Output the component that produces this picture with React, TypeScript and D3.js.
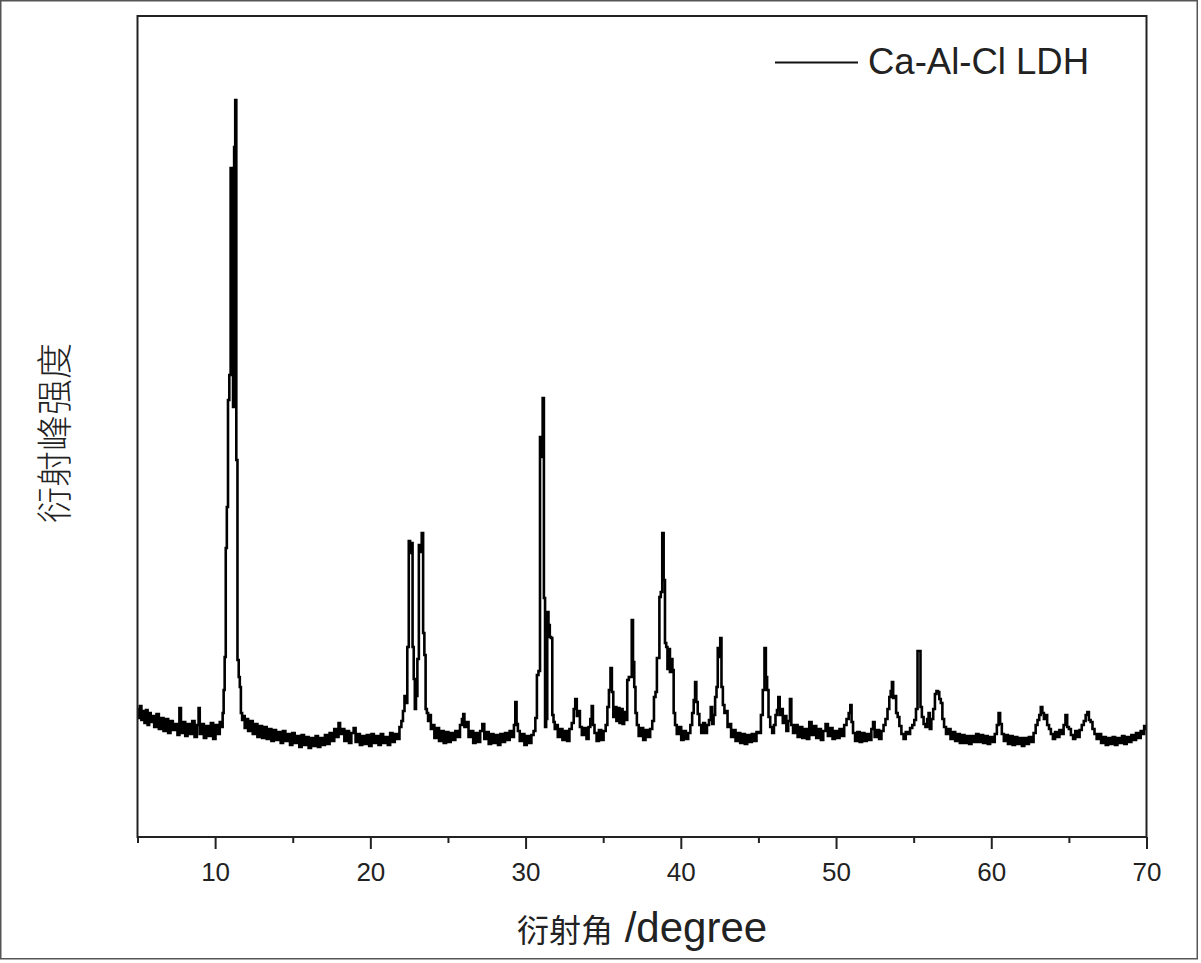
import React, { useEffect, useRef } from 'react';
import * as d3 from 'd3';

// XRD scan, 2θ (degree) vs intensity (a.u.), split by angle range
const scanLow: [number, number][] = [
  [5.0, 128], [5.1, 119], [5.2, 131], [5.3, 117], [5.4, 126], [5.5, 114], [5.6, 127], [5.7, 112],
  [5.8, 124], [5.9, 115], [6.0, 121], [6.15, 110], [6.3, 123], [6.45, 108], [6.6, 119], [6.75, 106],
  [6.9, 118], [7.05, 104], [7.2, 116], [7.35, 107], [7.5, 113], [7.65, 102], [7.75, 129], [7.85, 104],
  [8.0, 115], [8.15, 101], [8.3, 113], [8.45, 103], [8.6, 116], [8.75, 100], [8.9, 112], [8.97, 129],
  [9.05, 103], [9.2, 113], [9.35, 99], [9.5, 111], [9.65, 101], [9.8, 114], [9.95, 98], [10.1, 112],
  [10.25, 103], [10.35, 115], [10.45, 110], [10.52, 124], [10.58, 147], [10.65, 180], [10.72, 289],
  [10.79, 330], [10.87, 437], [10.96, 462], [11.04, 669], [11.12, 660], [11.19, 430], [11.26, 690],
  [11.33, 737], [11.4, 377], [11.48, 177], [11.56, 160], [11.62, 150], [11.7, 124], [11.78, 117],
  [11.86, 121], [11.95, 109],
];

const scan12to22: [number, number][] = [
  [12.05, 118], [12.2, 106], [12.35, 116], [12.5, 103], [12.65, 113], [12.8, 100], [12.95, 111],
  [13.1, 99], [13.25, 110], [13.4, 98], [13.55, 108], [13.7, 96], [13.85, 107], [14.0, 97],
  [14.15, 105], [14.3, 94], [14.45, 106], [14.6, 96], [14.75, 103], [14.9, 92], [15.05, 104],
  [15.2, 94], [15.35, 101], [15.5, 90], [15.65, 102], [15.8, 92], [15.95, 100], [16.1, 89],
  [16.25, 99], [16.4, 91], [16.55, 101], [16.7, 90], [16.85, 99], [17.0, 92], [17.15, 102],
  [17.3, 93], [17.45, 104], [17.6, 96], [17.75, 108], [17.9, 100], [18.0, 114], [18.1, 103],
  [18.25, 108], [18.4, 96], [18.55, 106], [18.7, 94], [18.85, 104], [19.0, 109], [19.1, 95],
  [19.25, 103], [19.4, 92], [19.55, 101], [19.7, 93], [19.85, 102], [20.0, 91], [20.15, 103],
  [20.3, 94], [20.45, 101], [20.6, 92], [20.75, 103], [20.9, 94], [21.05, 100], [21.2, 92],
  [21.35, 104], [21.5, 95], [21.65, 103], [21.8, 98], [21.95, 110],
];

const scan22to24: [number, number][] = [
  [22.05, 116], [22.15, 126], [22.25, 141], [22.33, 134], [22.43, 190], [22.52, 296], [22.6, 284],
  [22.68, 294], [22.76, 190], [22.83, 158], [22.9, 128], [22.98, 141], [23.08, 178], [23.17, 292],
  [23.26, 285], [23.36, 304], [23.44, 204], [23.52, 182], [23.6, 128], [23.68, 124], [23.76, 116],
  [23.85, 122], [23.95, 108],
];

const scan24to32: [number, number][] = [
  [24.05, 112], [24.2, 99], [24.35, 109], [24.5, 96], [24.65, 106], [24.8, 94], [24.95, 105],
  [25.1, 95], [25.25, 104], [25.4, 97], [25.55, 106], [25.7, 100], [25.85, 112], [25.95, 118],
  [26.02, 123], [26.1, 110], [26.25, 115], [26.4, 100], [26.55, 106], [26.7, 94], [26.85, 104],
  [27.0, 95], [27.15, 106], [27.28, 113], [27.4, 98], [27.55, 105], [27.7, 93], [27.85, 103],
  [28.0, 94], [28.15, 102], [28.3, 92], [28.45, 103], [28.6, 95], [28.75, 104], [28.9, 97],
  [29.05, 106], [29.2, 100], [29.3, 112], [29.38, 135], [29.46, 113], [29.55, 106], [29.7, 96],
  [29.85, 103], [30.0, 92], [30.15, 101], [30.3, 94], [30.45, 102], [30.58, 106],
  [30.68, 119], [30.78, 162], [30.88, 166], [30.98, 400], [31.06, 380], [31.14, 439], [31.22, 239],
  [31.29, 110], [31.36, 118], [31.43, 225], [31.52, 212], [31.6, 200], [31.68, 199], [31.76, 122],
  [31.84, 115], [31.92, 108],
];

const scan32to38: [number, number][] = [
  [32.0, 112], [32.15, 100], [32.3, 108], [32.45, 97], [32.6, 106], [32.75, 96], [32.9, 108],
  [33.05, 114], [33.15, 128], [33.25, 138], [33.35, 121], [33.45, 126], [33.55, 110], [33.7, 102],
  [33.85, 109], [34.0, 98], [34.12, 110], [34.22, 118], [34.3, 131], [34.38, 112], [34.5, 104],
  [34.65, 96], [34.8, 107], [34.95, 97], [35.1, 106], [35.22, 112], [35.32, 130], [35.42, 147],
  [35.52, 169], [35.6, 145], [35.7, 120], [35.8, 130], [35.9, 116], [36.0, 129], [36.1, 114],
  [36.2, 128], [36.3, 113], [36.4, 125], [36.5, 117], [36.6, 157], [36.7, 160], [36.8, 160],
  [36.88, 217], [36.96, 175], [37.04, 150], [37.12, 124], [37.22, 112], [37.35, 101], [37.5, 109],
  [37.65, 97], [37.8, 107], [37.95, 100], [38.1, 108], [38.22, 116], [38.32, 140],
];

const scan38to43: [number, number][] = [
  [38.42, 145], [38.5, 179], [38.58, 179], [38.66, 240], [38.76, 245], [38.85, 304], [38.94, 257],
  [39.02, 194], [39.1, 190], [39.18, 168], [39.26, 188], [39.34, 165], [39.42, 178], [39.5, 167],
  [39.58, 124], [39.68, 112], [39.8, 103], [39.95, 110], [40.1, 97], [40.25, 106], [40.4, 98],
  [40.55, 104], [40.68, 112], [40.78, 124], [40.88, 137], [40.96, 155], [41.04, 135], [41.14, 123],
  [41.25, 112], [41.38, 104], [41.5, 114], [41.62, 104], [41.75, 112], [41.88, 117], [41.98, 130],
  [42.06, 113], [42.16, 122], [42.26, 140], [42.34, 150], [42.42, 189], [42.5, 180], [42.58, 199],
  [42.66, 150], [42.76, 132], [42.86, 124], [42.96, 126], [43.06, 110], [43.18, 113],
];

const scan43to51: [number, number][] = [
  [43.3, 100], [43.45, 107], [43.6, 96], [43.75, 104], [43.9, 94], [44.05, 103], [44.2, 93],
  [44.35, 102], [44.5, 95], [44.65, 103], [44.8, 96], [44.95, 105], [45.1, 104], [45.22, 122],
  [45.34, 147], [45.44, 189], [45.52, 160], [45.6, 147], [45.7, 120], [45.82, 110], [45.95, 104],
  [46.05, 112], [46.15, 122], [46.24, 127], [46.32, 140], [46.42, 122], [46.52, 128], [46.62, 114],
  [46.74, 121], [46.86, 106], [46.98, 116], [47.08, 138], [47.16, 112], [47.3, 104], [47.45, 112],
  [47.6, 100], [47.75, 110], [47.9, 99], [48.05, 108], [48.2, 98], [48.35, 115], [48.5, 102],
  [48.65, 111], [48.8, 99], [48.95, 108], [49.1, 97], [49.25, 106], [49.4, 113], [49.55, 101],
  [49.7, 109], [49.85, 98], [50.0, 106], [50.15, 99], [50.3, 108], [50.45, 101], [50.6, 112],
  [50.75, 118], [50.88, 124], [50.96, 132], [51.04, 115], [51.15, 104],
];

const scan51to60: [number, number][] = [
  [51.3, 96], [51.45, 105], [51.6, 95], [51.75, 104], [51.9, 96], [52.05, 103], [52.2, 97],
  [52.35, 108], [52.42, 115], [52.55, 100], [52.7, 107], [52.85, 98], [53.0, 106], [53.12, 112],
  [53.25, 118], [53.38, 128], [53.48, 140], [53.56, 146], [53.64, 155], [53.72, 139], [53.82, 141],
  [53.92, 124], [54.02, 120], [54.14, 111], [54.28, 103], [54.42, 98], [54.56, 105], [54.7, 103],
  [54.84, 109], [54.98, 112], [55.1, 117], [55.2, 128], [55.3, 186], [55.4, 186], [55.48, 130],
  [55.58, 120], [55.7, 113], [55.82, 110], [55.92, 118], [56.0, 124], [56.08, 108], [56.2, 118],
  [56.32, 128], [56.42, 143], [56.52, 146], [56.6, 145], [56.7, 138], [56.8, 134], [56.9, 118],
  [57.02, 110], [57.15, 103], [57.3, 108], [57.45, 98], [57.6, 105], [57.75, 96], [57.9, 103],
  [58.05, 94], [58.2, 102], [58.35, 94], [58.5, 101], [58.65, 93], [58.8, 101], [58.95, 95],
  [59.1, 103], [59.25, 95], [59.4, 102], [59.55, 94], [59.7, 101], [59.85, 93],
];

const scan60to70: [number, number][] = [
  [60.0, 100], [60.15, 95], [60.3, 103], [60.42, 112], [60.52, 124], [60.62, 113], [60.74, 103],
  [60.88, 96], [61.0, 102], [61.15, 93], [61.3, 101], [61.45, 92], [61.6, 100], [61.75, 93],
  [61.9, 99], [62.05, 91], [62.2, 99], [62.35, 93], [62.5, 100], [62.65, 95], [62.8, 104],
  [62.92, 112], [63.04, 117], [63.14, 122], [63.24, 130], [63.34, 124], [63.44, 118], [63.54, 122],
  [63.66, 112], [63.78, 108], [63.9, 103], [64.04, 98], [64.18, 105], [64.32, 100], [64.46, 107],
  [64.6, 103], [64.72, 112], [64.84, 122], [64.94, 110], [65.06, 108], [65.2, 102], [65.34, 98],
  [65.48, 106], [65.62, 100], [65.76, 107], [65.9, 112], [66.02, 116], [66.14, 122], [66.24, 125],
  [66.34, 117], [66.46, 115], [66.58, 108], [66.72, 103], [66.86, 98], [67.0, 103], [67.15, 94],
  [67.3, 100], [67.45, 92], [67.6, 99], [67.75, 93], [67.9, 100], [68.05, 92], [68.2, 99],
  [68.35, 94], [68.5, 101], [68.65, 93], [68.8, 100], [68.95, 95], [69.1, 102], [69.25, 97],
  [69.4, 104], [69.55, 99], [69.7, 106], [69.8, 103], [69.9, 111], [70.0, 108],
];

const majorTicks = [10, 20, 30, 40, 50, 60, 70];
const minorTicks = [5, 15, 25, 35, 45, 55, 65];
const seriesName = 'Ca-Al-Cl LDH';
const xTitleCjk = '衍射角';
const xTitleLatin = ' /degree';
const yTitle = '衍射峰强度';

const LATIN = '"Liberation Sans", Arial, sans-serif';
const CJK = '"Noto Sans CJK SC", sans-serif';

const XrdChart = () => {
  const ref = useRef<SVGSVGElement>(null);

  useEffect(() => {
    const svg = d3.select(ref.current);
    svg.selectAll('*').remove();

    const W = 1201, H = 963;
    const left = 137.5, right = 1146.5, top = 16, bottom = 837;

    const data = [
      ...scanLow, ...scan12to22, ...scan22to24, ...scan24to32,
      ...scan32to38, ...scan38to43, ...scan43to51, ...scan51to60, ...scan60to70,
    ];

    const x = d3.scaleLinear().domain([5, 70]).range([left, right]);
    const y = d3.scaleLinear().domain([0, 821]).range([bottom, top]);

    svg.append('rect').attr('width', W).attr('height', H).attr('fill', '#fff');

    // outer picture border
    svg.append('rect')
      .attr('x', 0.75).attr('y', 0.75)
      .attr('width', 1196.5).attr('height', 958)
      .attr('fill', 'none').attr('stroke', '#555').attr('stroke-width', 1.5);

    // spectrum, drawn as steps like the instrument export
    const line = d3.line<[number, number]>()
      .x(d => x(d[0]))
      .y(d => y(d[1]))
      .curve(d3.curveStep);

    svg.append('path')
      .datum(data)
      .attr('d', line)
      .attr('fill', 'none')
      .attr('stroke', '#000')
      .attr('stroke-width', 2.6);

    // plot frame
    svg.append('rect')
      .attr('x', left).attr('y', top)
      .attr('width', right - left).attr('height', bottom - top)
      .attr('fill', 'none').attr('stroke', '#222').attr('stroke-width', 2);

    // x axis ticks
    const major = svg.append('g')
      .attr('transform', `translate(0,${bottom})`)
      .call(d3.axisBottom(x).tickValues(majorTicks).tickSize(12).tickPadding(14).tickFormat(d3.format('d')));
    major.select('.domain').remove();
    major.selectAll('line').attr('stroke', '#222').attr('stroke-width', 2);
    major.selectAll('text')
      .attr('font-family', LATIN)
      .attr('font-size', 26)
      .attr('fill', '#222');

    const minor = svg.append('g')
      .attr('transform', `translate(0,${bottom})`)
      .call(d3.axisBottom(x).tickValues(minorTicks).tickSize(6).tickFormat(() => ''));
    minor.select('.domain').remove();
    minor.selectAll('line').attr('stroke', '#222').attr('stroke-width', 2);

    // axis titles
    const xt = svg.append('text')
      .attr('x', 517).attr('y', 942)
      .attr('fill', '#222');
    xt.append('tspan').attr('font-family', CJK).attr('font-size', 32).text(xTitleCjk);
    xt.append('tspan').attr('font-family', LATIN).attr('font-size', 42).text(xTitleLatin);

    svg.append('text')
      .attr('transform', 'translate(68,433) rotate(-90)')
      .attr('text-anchor', 'middle')
      .attr('font-family', CJK)
      .attr('font-size', 36)
      .attr('font-weight', 300)
      .attr('fill', '#222')
      .text(yTitle);

    // legend
    svg.append('line')
      .attr('x1', 775).attr('x2', 858)
      .attr('y1', 62.5).attr('y2', 62.5)
      .attr('stroke', '#111').attr('stroke-width', 2);
    svg.append('text')
      .attr('x', 868).attr('y', 74)
      .attr('font-family', LATIN)
      .attr('font-size', 36.5)
      .attr('fill', '#222')
      .text(seriesName);
  }, []);

  return (
    <svg
      ref={ref}
      width={1201}
      height={963}
      style={{ position: 'absolute', left: 0, top: 0, display: 'block' }}
    />
  );
};

export default function App() {
  return <XrdChart />;
}
